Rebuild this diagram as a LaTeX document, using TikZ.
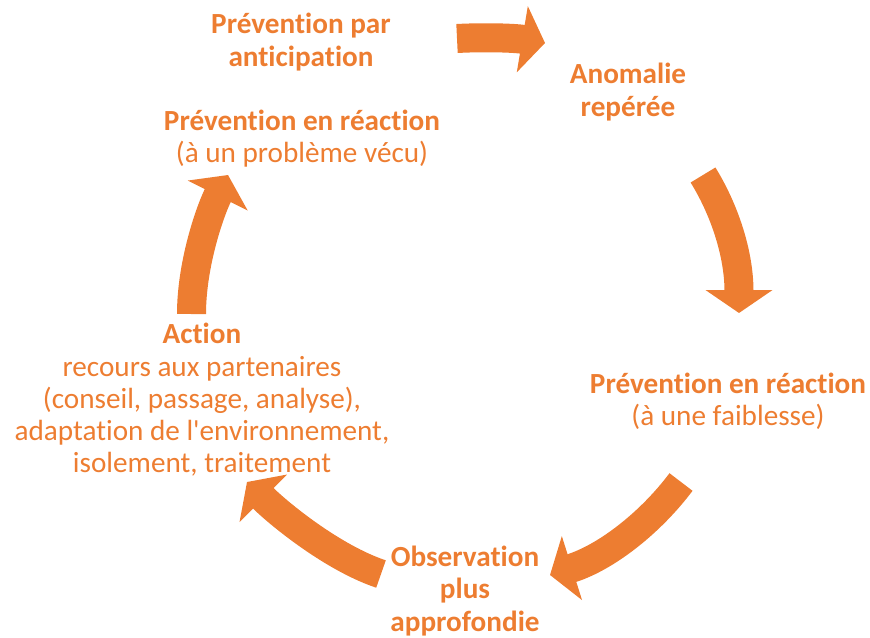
\documentclass[tikz,border=0pt]{standalone}
\usepackage{fontspec}
\setmainfont{Carlito}[Ligatures = NoCommon]
\usetikzlibrary{arrows.meta}
\usetikzlibrary{positioning}
\definecolor{cycleorange}{RGB}{237,125,49}

\begin{document}
\begin{tikzpicture}[x = 0.5pt, y = -0.5pt, on grid, stage/.style = {align = center, text = cycleorange, inner sep = 0pt, font = \fontsize{14.6pt}{16.1pt}\selectfont}, cyclearrow/.style = {draw = cycleorange, line width = 14.5pt, -{Triangle[width = 33pt, length = 11.5pt]}}]
	\useasboundingbox (0,0) rectangle (870,637);
	\node[stage] (anticip) at (301,42) {\textbf{Prévention par}\\\textbf{anticipation}};
	\node[stage] (anomalie) [below right = 25pt and 163.5pt of anticip] {\textbf{Anomalie}\\\textbf{repérée}};
	\node[stage] (faiblesse) [below right = 154.5pt and 50pt of anomalie] {\textbf{Prévention en réaction}\\(à une faiblesse)};
	\node[stage] (observ) [below left = 95pt and 131.5pt of faiblesse] {\textbf{Observation}\\\textbf{plus}\\\textbf{approfondie}};
	\node[stage] (action) [above left = 95.5pt and 131.5pt of observ] {\textbf{Action}\\recours aux partenaires\\(conseil, passage, analyse),\\adaptation de l\textquotesingle environnement,\\isolement, traitement};
	\node[stage] (vecu) [above right = 130.75pt and 50pt of action] {\textbf{Prévention en réaction}\\(à un problème vécu)};
	% ends of the arrows
	\coordinate (a1) at (457,38.5);
	\coordinate (a2) at (545,43);
	\coordinate (b1) at (703,175);
	\coordinate (b2) at (739,313);
	\coordinate (c1) at (681,482);
	\coordinate (c2) at (550,575);
	\coordinate (d1) at (381,574);
	\coordinate (d2) at (247,482);
	\coordinate (e1) at (191.5,314);
	\coordinate (e2) at (228,175);
	\draw[cyclearrow] (a1) .. controls (485,37) and (515,38) .. (a2);
	\draw[cyclearrow] (b1) .. controls (724,209) and (739,253) .. (b2);
	\draw[cyclearrow] (c1) .. controls (651,522) and (607,557) .. (c2);
	\draw[cyclearrow] (d1) .. controls (333,558) and (279,514) .. (d2);
	\draw[cyclearrow] (e1) .. controls (191.5,264) and (210,211) .. (e2);
\end{tikzpicture}
\end{document}
